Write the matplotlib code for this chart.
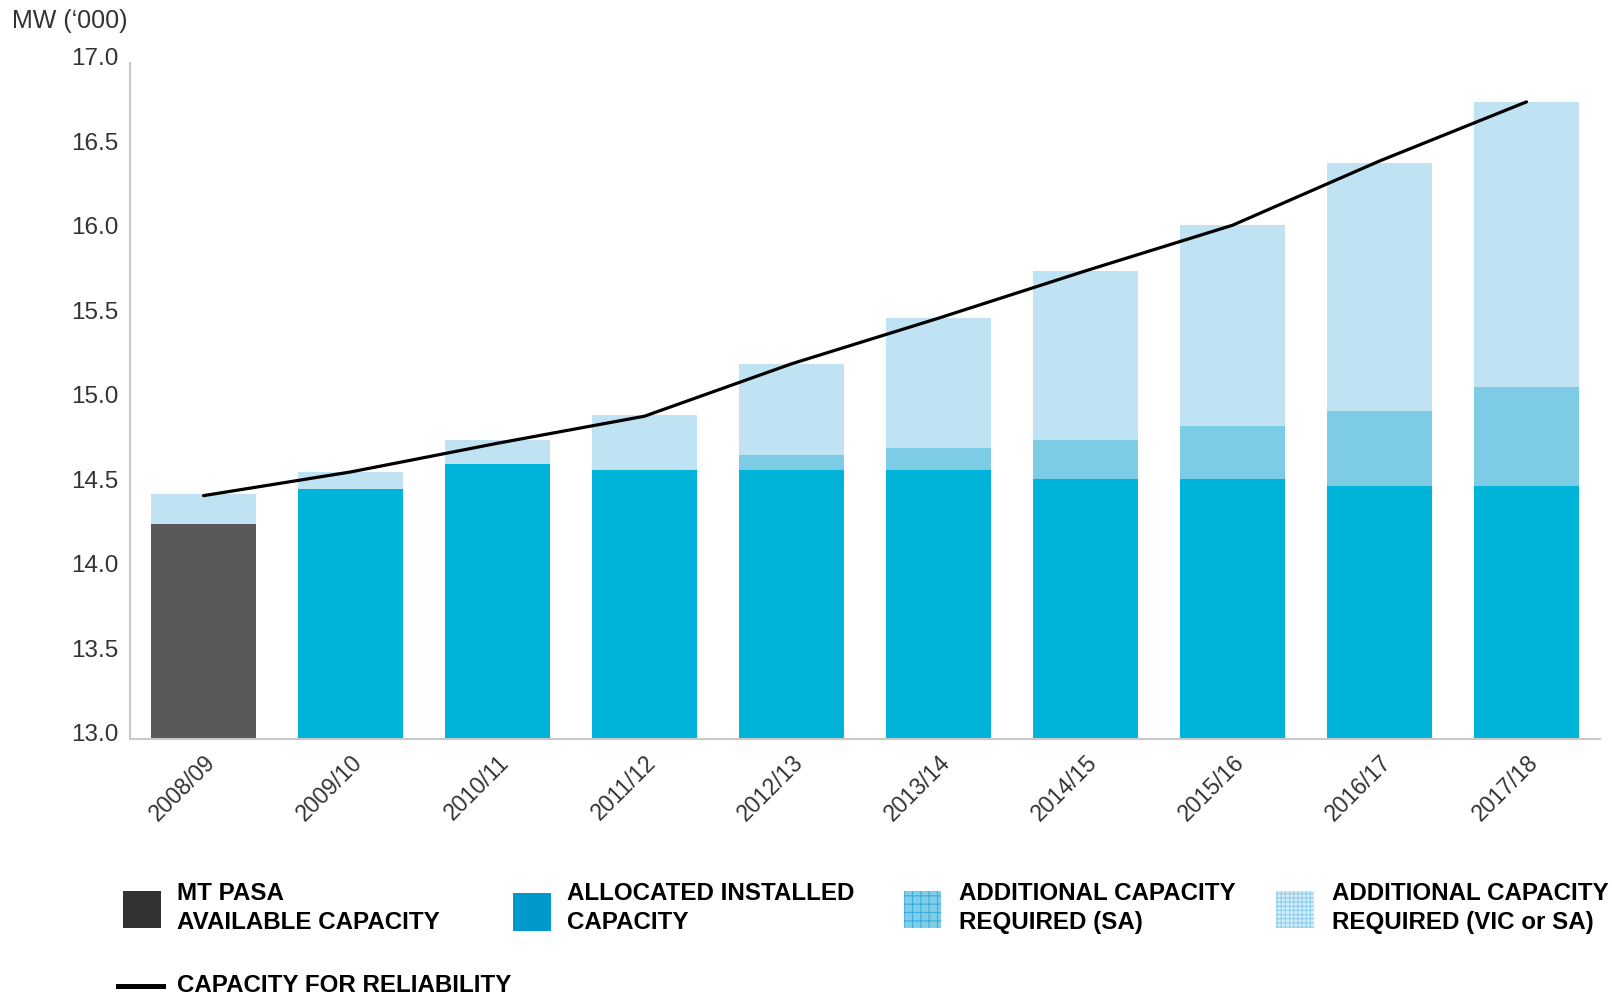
import matplotlib
matplotlib.use("Agg")
import matplotlib.pyplot as plt
import matplotlib.transforms as mtransforms
from matplotlib.patches import Rectangle
from matplotlib.lines import Line2D
import numpy as np

plt.rcParams['font.family'] = ['Liberation Sans', 'DejaVu Sans']

years = ['2008/09', '2009/10', '2010/11', '2011/12', '2012/13',
         '2013/14', '2014/15', '2015/16', '2016/17', '2017/18']
mt_pasa_available = [14.27, 0, 0, 0, 0, 0, 0, 0, 0, 0]
allocated_installed = [0, 14.48, 14.63, 14.59, 14.59, 14.59, 14.54, 14.54, 14.50, 14.50]
additional_sa = [0, 0, 0, 0, 0.09, 0.13, 0.23, 0.31, 0.44, 0.58]
additional_vic_or_sa = [0.18, 0.10, 0.14, 0.33, 0.54, 0.77, 1.00, 1.19, 1.47, 1.69]
capacity_for_reliability = [14.44, 14.58, 14.75, 14.91, 15.22, 15.49, 15.77, 16.04, 16.42, 16.77]
yticks = [13.0, 13.5, 14.0, 14.5, 15.0, 15.5, 16.0, 16.5, 17.0]

C_DARK = '#58585A'
C_BLUE = '#00B3D8'
C_SA = '#7DCCE5'
C_LIGHT = '#BFE3F2'

W, H = 1612, 995
fig = plt.figure(figsize=(W / 100, H / 100), dpi=100)
ax = fig.add_axes([130 / W, 1 - 740 / H, 1470 / W, (740 - 64) / H])

x = np.arange(len(years))
base = np.array(mt_pasa_available) + np.array(allocated_installed)
ax.bar(x, np.array(mt_pasa_available) - 13.0, bottom=13.0, width=0.72,
       color=C_DARK, linewidth=0)
alloc = np.array(allocated_installed)
ax.bar(x, np.where(alloc > 0, alloc - 13.0, 0), bottom=13.0, width=0.72,
       color=C_BLUE, linewidth=0)
ax.bar(x, additional_sa, bottom=base, width=0.72, color=C_SA, linewidth=0)
ax.bar(x, additional_vic_or_sa, bottom=base + np.array(additional_sa),
       width=0.72, color=C_LIGHT, linewidth=0)
ax.plot(x, capacity_for_reliability, color='black', lw=2.3,
        solid_capstyle='round', solid_joinstyle='round')

ax.set_xlim(-0.5, 9.5)
ax.set_ylim(13.0, 17.0)
ax.set_yticks(yticks, [f'{v:.1f}' for v in yticks])
ax.set_xticks(x, years)
for s in ['top', 'right']:
    ax.spines[s].set_visible(False)
for s in ['left', 'bottom']:
    ax.spines[s].set_color('#C8C8C8')
    ax.spines[s].set_linewidth(1.5)
ax.tick_params(axis='both', length=0, colors='#333333')
ax.tick_params(axis='y', labelsize=17.5, pad=8.5)
ax.tick_params(axis='x', labelsize=16.5, pad=0)

off_y = mtransforms.ScaledTranslation(0, 7 / 100, fig.dpi_scale_trans)
for lab in ax.get_yticklabels():
    lab.set_transform(lab.get_transform() + off_y)
off_x = mtransforms.ScaledTranslation(8 / 100, -19 / 100, fig.dpi_scale_trans)
for lab in ax.get_xticklabels():
    lab.set_rotation(45)
    lab.set_ha('right')
    lab.set_va('center')
    lab.set_rotation_mode('anchor')
    lab.set_transform(lab.get_transform() + off_x)

fig.text(12.5 / W, 1 - 28.3 / H, "MW (\u2018000)", fontsize=18,
         color='#333333', va='baseline', ha='left')

# legend
def fy(py):
    return 1 - py / H

def swatch(x0, x1, y0, y1, fc, hatch=None, hc=None):
    r = Rectangle((x0 / W, fy(y1)), (x1 - x0) / W, (y1 - y0) / H,
                  transform=fig.transFigure, facecolor=fc,
                  edgecolor=hc if hc else 'none', linewidth=0, hatch=hatch)
    fig.patches.append(r)

plt.rcParams['hatch.linewidth'] = 0.8
swatch(123, 161, 892, 929, '#333333')
swatch(513, 551, 894, 932, '#0099CC')
swatch(904, 941, 892, 929, '#7FCDE8', hatch='++', hc='#3AAEDD')
swatch(1276, 1314, 892, 929, '#D6EEF8', hatch='++++', hc='#8FD0EC')

legend_texts = [
    (177, ['MT PASA', 'AVAILABLE CAPACITY']),
    (567, ['ALLOCATED INSTALLED', 'CAPACITY']),
    (959, ['ADDITIONAL CAPACITY', 'REQUIRED (SA)']),
    (1332, ['ADDITIONAL CAPACITY', 'REQUIRED (VIC or SA)']),
]
for tx, lines in legend_texts:
    for ly, line in zip([900.0, 929.0], lines):
        fig.text(tx / W, fy(ly), line, fontsize=17.4, fontweight='bold',
                 color='black', va='baseline', ha='left')

fig.add_artist(Line2D([118 / W, 163 / W], [fy(987), fy(987)],
                      transform=fig.transFigure, color='black', lw=3.6))
fig.text(177 / W, fy(992), 'CAPACITY FOR RELIABILITY', fontsize=17.4,
         fontweight='bold', color='black', va='baseline', ha='left')

fig.savefig('out.png', dpi=100)
